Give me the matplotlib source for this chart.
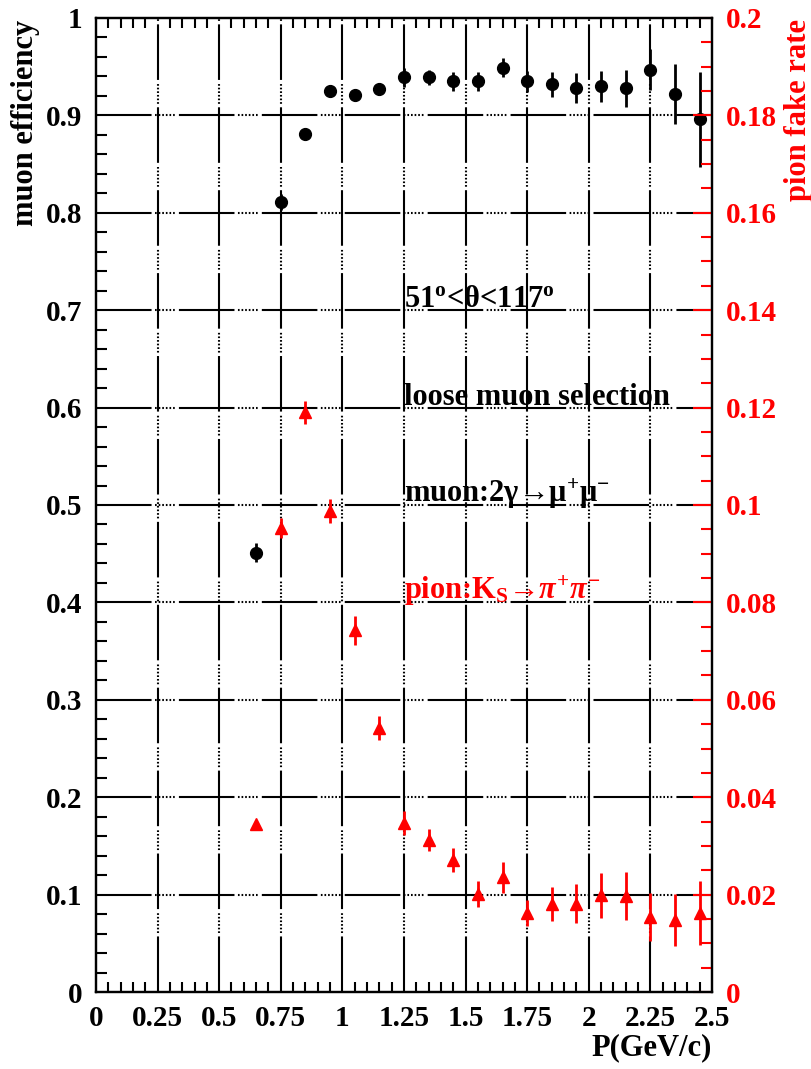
import numpy as np
import matplotlib
matplotlib.use("Agg")
import matplotlib.pyplot as plt
from matplotlib.ticker import MultipleLocator, FixedLocator

plt.rcParams['font.family'] = ['Liberation Serif', 'DejaVu Serif']
plt.rcParams['font.weight'] = 'bold'
plt.rcParams['mathtext.fontset'] = 'custom'
plt.rcParams['mathtext.rm'] = 'Liberation Serif:bold'
plt.rcParams['mathtext.it'] = 'Liberation Serif:italic:bold'
plt.rcParams['mathtext.bf'] = 'Liberation Serif:bold'
plt.rcParams['lines.scale_dashes'] = False

# momentum bin centres (GeV/c)
p_bins = [0.65, 0.75, 0.85, 0.95, 1.05, 1.15, 1.25, 1.35, 1.45, 1.55,
          1.65, 1.75, 1.85, 1.95, 2.05, 2.15, 2.25, 2.35, 2.45]

# muon efficiency (2 gamma -> mu+ mu-)
muon_eff = [0.451, 0.811, 0.881, 0.925, 0.921, 0.927, 0.939, 0.939, 0.935, 0.935,
            0.949, 0.935, 0.932, 0.928, 0.930, 0.928, 0.947, 0.922, 0.896]
muon_err = [0.010, 0.008, 0.005, 0.005, 0.005, 0.005, 0.010, 0.008, 0.010, 0.010,
            0.010, 0.011, 0.013, 0.015, 0.016, 0.019, 0.021, 0.031, 0.049]

# pion fake rate (Ks -> pi+ pi-)
pion_fake = [0.0345, 0.0953, 0.1190, 0.0988, 0.0743, 0.0542, 0.0347, 0.0312, 0.0271, 0.0201,
             0.0236, 0.0162, 0.0181, 0.0181, 0.0199, 0.0197, 0.0154, 0.0148, 0.0162]
pion_err = [0.0005, 0.0020, 0.0024, 0.0024, 0.0030, 0.0025, 0.0024, 0.0023, 0.0025, 0.0026,
            0.0032, 0.0027, 0.0035, 0.0040, 0.0046, 0.0049, 0.0050, 0.0053, 0.0066]

x_ticks = [0, 0.25, 0.5, 0.75, 1, 1.25, 1.5, 1.75, 2, 2.25, 2.5]
x_labels = ['0', '0.25', '0.5', '0.75', '1', '1.25', '1.5', '1.75', '2', '2.25', '2.5']
left_ticks = [0, 0.1, 0.2, 0.3, 0.4, 0.5, 0.6, 0.7, 0.8, 0.9, 1]
left_labels = ['0', '0.1', '0.2', '0.3', '0.4', '0.5', '0.6', '0.7', '0.8', '0.9', '1']
right_ticks = [0, 0.02, 0.04, 0.06, 0.08, 0.1, 0.12, 0.14, 0.16, 0.18, 0.2]
right_labels = ['0', '0.02', '0.04', '0.06', '0.08', '0.1', '0.12', '0.14', '0.16', '0.18', '0.2']

fig = plt.figure(figsize=(8.12, 10.69), dpi=100)
ax = fig.add_axes([0.1182, 0.072, 0.7586, 0.9112])
ax2 = ax.twinx()

# grid: long dash followed by a short run of dots (even-length pattern)
grid_dash = (0, [40, 2.5] + [1.2, 1.4] * 5 + [1.2, 3.0])
for v in x_ticks[1:-1]:
    ax.axvline(v, color='black', lw=1.5, ls=grid_dash, zorder=1)
for v in left_ticks[1:-1]:
    ax.axhline(v, color='black', lw=1.5, ls=grid_dash, zorder=1)

ax.errorbar(p_bins, muon_eff, yerr=muon_err, fmt='o', color='black',
            ms=8.5, elinewidth=2, capsize=0, zorder=5)
ax2.errorbar(p_bins, pion_fake, yerr=pion_err, fmt='^', color='red',
             ms=9, elinewidth=2, capsize=0, zorder=5)

ax.set_xlim(0, 2.5)
ax.set_ylim(0, 1)
ax2.set_ylim(0, 0.2)

ax.xaxis.set_major_locator(FixedLocator(x_ticks))
ax.set_xticklabels(x_labels)
ax.xaxis.set_minor_locator(MultipleLocator(0.05))
ax.yaxis.set_major_locator(FixedLocator(left_ticks))
ax.set_yticklabels(left_labels)
ax.yaxis.set_minor_locator(MultipleLocator(0.02))
ax2.yaxis.set_major_locator(FixedLocator(right_ticks))
ax2.set_yticklabels(right_labels)
ax2.yaxis.set_minor_locator(MultipleLocator(0.005))

ax.tick_params(axis='x', which='both', direction='in', top=True, bottom=True,
               labelsize=21, pad=9, width=1.5)
ax.tick_params(axis='x', which='major', length=0)
ax.tick_params(axis='x', which='minor', length=7)
ax.tick_params(axis='y', which='both', direction='in', left=True, right=False,
               labelsize=21, pad=10, width=1.5)
ax.tick_params(axis='y', which='major', length=0)
ax.tick_params(axis='y', which='minor', length=8)
ax2.tick_params(axis='y', which='both', direction='in', colors='red',
                labelsize=21, pad=10, width=1.5)
ax2.tick_params(axis='y', which='major', length=14)
ax2.tick_params(axis='y', which='minor', length=8)

for a in (ax, ax2):
    for s in a.spines.values():
        s.set_linewidth(1.6)
        s.set_color('black')

ax.set_ylabel('muon efficiency', fontsize=22, fontweight='bold')
ax.yaxis.set_label_coords(-0.114, 0.892)
ax.yaxis.label.set_verticalalignment('center')
ax2.set_ylabel('pion fake rate', fontsize=22, fontweight='bold', color='red')
ax2.yaxis.set_label_coords(1.14, 0.906)
ax2.yaxis.label.set_verticalalignment('center')
ax.set_xlabel('P(GeV/c)', fontsize=22, fontweight='bold')
ax.xaxis.set_label_coords(1.0, -0.057)
ax.xaxis.label.set_horizontalalignment('right')
ax.xaxis.label.set_verticalalignment('center')

txt = dict(fontsize=22, fontweight='bold', ha='left', va='baseline', zorder=6)
ax.text(1.25, 0.703, r'51$^{\rm o}$<θ<117$^{\rm o}$', color='black', **txt)
ax.text(1.25, 0.603, 'loose muon selection', color='black', **txt)
ax.text(1.25, 0.503, r'muon:2γ→μ$^{+}$μ$^{-}$', color='black', **txt)
ax.text(1.25, 0.403, r'pion:K$_{\rm S}$→$\pi^{+}\pi^{-}$', color='red', **txt)

fig.savefig('out.png', dpi=100)
